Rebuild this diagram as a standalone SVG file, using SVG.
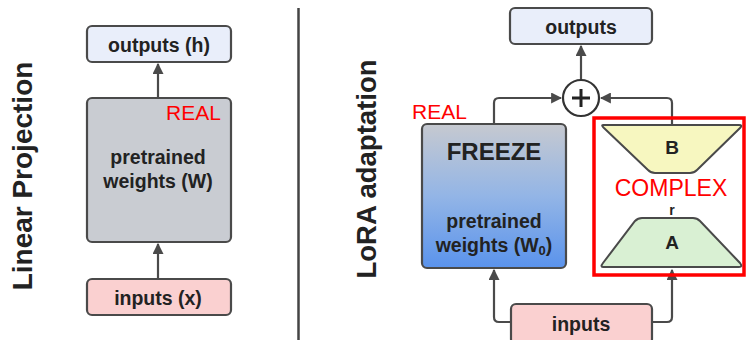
<svg xmlns="http://www.w3.org/2000/svg" width="747" height="340" viewBox="0 0 747 340">
<style>
.box{stroke:#4a4a4a;stroke-width:2.2}
.t{font-family:"Liberation Sans",Arial,sans-serif;font-weight:bold;fill:#222;text-anchor:middle}
.red{font-family:"Liberation Sans",Arial,sans-serif;fill:#ff0000}
.ln{fill:none;stroke:#4a4a4a;stroke-width:2.2}
.title{font-family:"Liberation Sans",Arial,sans-serif;font-weight:bold;fill:#222;text-anchor:middle}
</style>
<defs>
<marker id="ah" viewBox="0 0 10 10" refX="9" refY="5" markerWidth="5" markerHeight="5" orient="auto" markerUnits="strokeWidth">
<path d="M0,0 L10,5 L0,10 z" fill="#4a4a4a"/>
</marker>
<linearGradient id="fz" x1="0" y1="0" x2="0" y2="1">
<stop offset="0" stop-color="#c6c9d0"/>
<stop offset="0.5" stop-color="#93b5e6"/>
<stop offset="1" stop-color="#5a93ec"/>
</linearGradient>
</defs>
<rect width="747" height="340" fill="#ffffff"/>

<g id="divider"><line x1="298.5" y1="8" x2="298.5" y2="340" stroke="#444" stroke-width="2.5"/></g>

<g id="title-left"><text class="title" font-size="28" transform="translate(32,176) rotate(-90)">Linear Projection</text></g>
<g id="title-right"><text class="title" font-size="27.5" transform="translate(376,169) rotate(-90)">LoRA adaptation</text></g>

<g id="connectors">
<line class="ln" x1="158" y1="98" x2="158" y2="64" marker-end="url(#ah)"/>
<line class="ln" x1="158" y1="279" x2="158" y2="244" marker-end="url(#ah)"/>
<line class="ln" x1="581" y1="80" x2="581" y2="46" marker-end="url(#ah)"/>
<path class="ln" d="M494,124 V103 Q494,98 499,98 H561" marker-end="url(#ah)"/>
<path class="ln" d="M672,125 V103 Q672,98 667,98 H601" marker-end="url(#ah)"/>
<path class="ln" d="M511,322 H499 Q494,322 494,317 V270" marker-end="url(#ah)"/>
<path class="ln" d="M652,322 H667 Q672,322 672,317 V270" marker-end="url(#ah)"/>
</g>

<g id="outputs-h">
<rect class="box" x="87" y="26" width="144" height="36" rx="5" fill="#e9eefa"/>
<text class="t" x="159" y="52" font-size="19.5">outputs (h)</text>
</g>
<g id="weights-w">
<rect class="box" x="87" y="98" width="144" height="144" rx="5" fill="#c9ccd2"/>
<text class="red" x="166" y="120" font-size="21">REAL</text>
<text class="t" x="158" y="164" font-size="19.5">pretrained</text>
<text class="t" x="158" y="188" font-size="19.5">weights (W)</text>
</g>
<g id="inputs-x">
<rect class="box" x="87" y="279" width="144" height="36" rx="5" fill="#fad0d0"/>
<text class="t" x="158" y="305" font-size="19.5">inputs (x)</text>
</g>

<g id="outputs">
<rect class="box" x="510" y="8" width="142" height="36" rx="5" fill="#e9eefa"/>
<text class="t" x="581" y="34" font-size="19.5">outputs</text>
</g>
<g id="plus">
<circle cx="581" cy="98" r="18" fill="#ffffff" stroke="#333" stroke-width="2.2"/>
<path d="M581,89 V107 M572,98 H590" stroke="#222" stroke-width="3"/>
</g>
<g id="freeze">
<text class="red" x="412" y="119" font-size="21">REAL</text>
<rect class="box" x="422" y="124" width="144" height="144" rx="5" fill="url(#fz)"/>
<text class="t" x="494" y="160" font-size="24">FREEZE</text>
<text class="t" x="494" y="228" font-size="19.5">pretrained</text>
<text class="t" x="494" y="252" font-size="19.5">weights (W<tspan font-size="13" dy="3">0</tspan><tspan dy="-3">)</tspan></text>
</g>
<g id="complex">
<rect x="594" y="118" width="150" height="157" fill="none" stroke="#ff0000" stroke-width="3.5"/>
<text class="red" x="671" y="196" font-size="23" text-anchor="middle">COMPLEX</text>
<text class="t" x="672" y="215" font-size="14">r</text>
</g>
<g id="B">
<path d="M603,125 H739 Q743,125 740,128 L697,170 Q694,173 690,173 H655 Q651,173 648,170 L604,128 Q601,125 603,125 Z" fill="#f7f7c0" stroke="#4a4a4a" stroke-width="2"/>
<text class="t" x="672" y="154" font-size="19">B</text>
</g>
<g id="A">
<path d="M642,218 H693 Q697,218 700,221 L740,263 Q743,267 739,267 H603 Q600,267 603,263 L635,221 Q638,218 642,218 Z" fill="#d9f0d3" stroke="#4a4a4a" stroke-width="2"/>
<text class="t" x="672" y="249" font-size="19">A</text>
</g>
<g id="inputs">
<rect class="box" x="511" y="304" width="141" height="40" rx="5" fill="#fad0d0"/>
<text class="t" x="581" y="331" font-size="19.5">inputs</text>
</g>
</svg>
